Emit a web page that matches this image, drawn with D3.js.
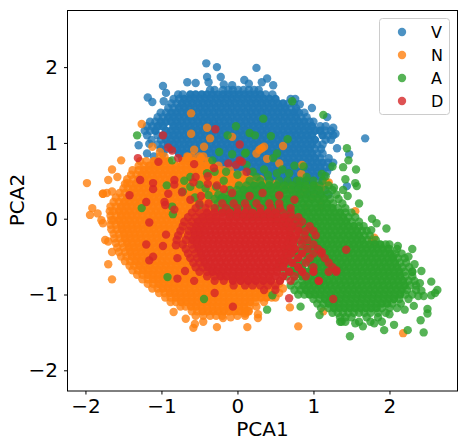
<!DOCTYPE html>
<html><head><meta charset="utf-8">
<script src="https://cdnjs.cloudflare.com/ajax/libs/d3/7.8.5/d3.min.js"></script>
<style>html,body{margin:0;background:#fff}svg{display:block;font-family:"DejaVu Sans"}</style>
</head><body><svg id="c" width="468" height="447"></svg>
<script>
const seriesNames=["V","N","A","D"];
const seriesColors=["#1f77b4","#ff7f0e","#2ca02c","#d62728"];
const xTicks=[-2,-1,0,1,2];
const yTicks=[-2,-1,0,1,2];
// rows: [pca2, pca1, pca1, ...]
const vRows=[
[1.7,-.36,-.3,-.19,-.12,-.06,.01,.08,.15,.22,.28],
[1.64,-.78,-.72,-.62,-.55,-.47,-.4,-.33,-.26,-.19,-.12,-.05,.02,.09,.16,.23,.3,.37,.46],
[1.58,-.84,-.77,-.7,-.63,-.56,-.49,-.42,-.35,-.28,-.21,-.14,-.07,0,.07,.14,.21,.28,.35,.42,.5,.7,.76],
[1.52,-.87,-.8,-.73,-.66,-.59,-.52,-.45,-.38,-.31,-.24,-.17,-.1,-.03,.04,.11,.18,.25,.32,.39,.46,.53,.6,.67,.74],
[1.46,-.91,-.84,-.77,-.7,-.63,-.56,-.49,-.42,-.35,-.28,-.21,-.14,-.07,0,.07,.14,.21,.28,.35,.42,.49,.56,.63,.7,.77],
[1.4,-1.01,-.94,-.87,-.8,-.73,-.66,-.59,-.52,-.45,-.38,-.31,-.24,-.17,-.1,-.03,.04,.11,.18,.25,.32,.39,.46,.53,.6,.67,.74,.81,.88],
[1.34,-1.05,-.98,-.91,-.84,-.77,-.7,-.63,-.56,-.49,-.42,-.35,-.28,-.21,-.14,-.07,0,.07,.14,.21,.28,.35,.42,.49,.56,.63,.7,.77,.84,.91],
[1.28,-1.15,-1.08,-1.01,-.94,-.87,-.8,-.73,-.66,-.59,-.52,-.45,-.38,-.31,-.24,-.17,-.1,-.03,.04,.11,.18,.25,.32,.39,.46,.53,.6,.67,.74,.81,.88,.95,1.0],
[1.22,-1.19,-1.12,-1.05,-.98,-.84,-.77,-.7,-.63,-.56,-.49,-.42,-.35,-.28,-.21,-.14,-.07,0,.07,.14,.21,.28,.35,.42,.49,.56,.63,.7,.77,.84,.91,.98,1.09,1.16],
[1.16,-1.22,-1.15,-1.08,-.94,-.87,-.8,-.73,-.66,-.59,-.52,-.45,-.38,-.31,-.24,-.17,-.1,-.03,.04,.11,.18,.25,.32,.39,.46,.53,.6,.67,.74,.81,.88,.95,1.02,1.09,1.16,1.23],
[1.1,-1.19,-1.05,-.98,-.91,-.84,-.77,-.7,-.63,-.56,-.49,-.42,-.35,-.28,-.21,-.14,-.07,0,.07,.14,.21,.28,.35,.42,.49,.56,.63,.7,.77,.84,.91,.98,1.12,1.19,1.26],
[1.04,-1.13,-1.01,-.94,-.87,-.8,-.73,-.66,-.59,-.52,-.45,-.38,-.31,-.24,-.17,-.1,-.03,.04,.11,.18,.25,.32,.39,.46,.53,.6,.67,.74,.81,.88,.95,1.02,1.16,1.23],
[.98,-1.05,-.98,-.91,-.84,-.77,-.7,-.63,-.56,-.49,-.42,-.35,-.28,-.21,-.14,-.07,0,.07,.14,.21,.28,.35,.42,.49,.56,.63,.7,.77,.84,.91,.98,1.05,1.12],
[.92,-1.01,-.94,-.87,-.8,-.73,-.66,-.59,-.52,-.45,-.38,-.31,-.24,-.17,-.1,-.03,.04,.11,.18,.25,.32,.39,.46,.53,.6,.67,.74,.81,.88,.95,1.02,1.1],
[.86,-1.19,-.98,-.77,-.7,-.63,-.56,-.49,-.42,-.35,-.28,-.21,-.14,-.07,0,.07,.14,.21,.28,.35,.42,.49,.56,.63,.7,.77,.84,.91,.98,1.05,1.12],
[.8,-.73,-.66,-.59,-.52,-.45,-.38,-.31,-.24,-.17,-.1,-.03,.04,.11,.18,.25,.32,.39,.46,.53,.6,.67,.74,.81,.88,.95,1.02,1.09,1.2],
[.74,-.49,-.42,-.35,-.28,-.21,-.14,-.07,0,.07,.14,.21,.28,.35,.42,.49,.56,.63,.7,.77,.84,.91,.98,1.05,1.12,1.19,1.26],
[.68,-.24,-.17,-.1,-.03,.04,.11,.18,.25,.32,.39,.46,.53,.6,.67,.74,.81,.88,.95,1.02,1.09,1.16,1.22],
[.62,0,.07,.14,.21,.28,.35,.42,.49,.56,.63,.7,.77,.84,.91,.98,1.05,1.12,1.18],
[.56,.11,.18,.25,.32,.39,.46,.53,.6,.67,.74,.81,.88,.95,1.02,1.09,1.14],
[.5,.28,.35,.42,.49,.56,.63,.7,.77,.84,.91,.98,1.05,1.12],
[.44,.46,.53,.6,.67,.74,.81,.88,.95,1.02,1.09],
[.38,.63,.7,.77,.84,.91,.98,1.05,1.15],
[.32,.81,.88,.95,1.02,1.09,1.2]
];
const vEdge=[[-.41,2.05],[-.27,2],[.25,1.99],[-.4,1.87],[-.22,1.87],[.39,1.85],[.32,1.8],[.09,1.83],[-.38,1.8],[-.55,1.79],[-.66,1.8],[-.98,1.75],[-.94,1.66],[-1.18,1.6],[-1.12,1.54],[-.97,1.55],[1.68,1.06],[1.31,.93],[1.47,.85],[1.44,.43],[.98,1.46],[1.18,1.34],[.47,1.76],[-.18,1.77],[-.07,1.76],[.15,1.78],[.82,1.51],[.78,1.42],[1.26,1.2],[1.29,1.12],[-1.3,.97],[-1.16,.99],[-1.1,.82]];
const nRows=[
[.82,-1.02,-.96,-.66,-.6,-.5,-.45],
[.76,-1.28,-1.2,-1.1,-1.03,-.96,-.9,-.72,-.65,-.58,-.51,-.44,-.38],
[.7,-1.3,-1.23,-1.16,-1.09,-1.02,-.95,-.88,-.81,-.74,-.67,-.6,-.53,-.46,-.39,-.32,-.25],
[.64,-1.38,-1.3,-1.23,-1.16,-1.09,-1.02,-.95,-.88,-.81,-.74,-.67,-.6,-.53,-.46,-.39,-.32,-.25,-.18,-.1],
[.58,-1.4,-1.33,-1.26,-1.19,-1.12,-1.05,-.98,-.91,-.84,-.77,-.7,-.63,-.56,-.49,-.42,-.35,-.28,-.21,-.14,-.07,0,.07],
[.52,-1.45,-1.37,-1.3,-1.23,-1.16,-1.09,-1.02,-.95,-.88,-.81,-.74,-.67,-.6,-.53,-.46,-.39,-.32,-.25,-.18,-.11,-.04,.03,.1,.17,.24,.3],
[.46,-1.48,-1.41,-1.34,-1.27,-1.2,-1.13,-1.06,-.99,-.92,-.85,-.78,-.71,-.64,-.57,-.5,-.43,-.36,-.29,-.22,-.15,-.08,-.01,.06,.13,.2,.27,.34,.41,.5],
[.4,-1.5,-1.44,-1.37,-1.3,-1.23,-1.16,-1.09,-1.02,-.95,-.88,-.81,-.74,-.67,-.6,-.53,-.46,-.39,-.32,-.25,-.18,-.11,-.04,.03,.1,.17,.24,.31,.38,.45,.6,.7,.9],
[.34,-1.55,-1.48,-1.41,-1.34,-1.27,-1.2,-1.13,-1.06,-.99,-.92,-.85,-.78,-.71,-.64,-.57,-.5,-.43,-.36,-.29,-.22,-.15,-.08,-.01,.06,.13,.2,.3,.42,.55,.85],
[.28,-1.6,-1.52,-1.45,-1.38,-1.31,-1.24,-1.17,-1.1,-1.03,-.96,-.89,-.82,-.75,-.68,-.61,-.54,-.47,-.4,-.33,-.26,-.19,-.12,-.05,.02,.09,.16,.27,.5,.75,1.0],
[.22,-1.63,-1.56,-1.49,-1.42,-1.35,-1.28,-1.21,-1.14,-1.07,-1,-.93,-.86,-.79,-.72,-.65,-.58,-.51,-.44,-.37,-.3,-.23,-.16,-.09,-.02,.05,.4,.65,1.1],
[.16,-1.67,-1.6,-1.53,-1.46,-1.39,-1.32,-1.25,-1.18,-1.11,-1.04,-.97,-.9,-.83,-.76,-.69,-.62,-.55,-.48,-.41,-.34,-.27,-.2,-.13,-.06,.01,.9,1.1],
[.1,-1.68,-1.63,-1.56,-1.49,-1.42,-1.35,-1.28,-1.21,-1.14,-1.07,-1,-.93,-.86,-.79,-.72,-.65,-.58,-.51,-.44,-.37,-.3,-.23,-.16,.9],
[.04,-1.67,-1.6,-1.53,-1.46,-1.39,-1.32,-1.25,-1.18,-1.11,-1.04,-.97,-.9,-.83,-.76,-.69,-.62,-.55,-.48,-.41,-.34,-.27,.7],
[-.02,-1.66,-1.63,-1.56,-1.49,-1.42,-1.35,-1.28,-1.21,-1.14,-1.07,-1,-.93,-.86,-.79,-.72,-.65,-.58,-.51,-.44,-.37,-.3],
[-.08,-1.67,-1.6,-1.53,-1.46,-1.39,-1.32,-1.25,-1.18,-1.11,-1.04,-.97,-.9,-.83,-.76,-.69,-.62,-.55,-.48,-.41],
[-.14,-1.66,-1.59,-1.52,-1.45,-1.38,-1.31,-1.24,-1.17,-1.1,-1.03,-.96,-.89,-.82,-.75,-.68,-.61,-.54,-.47],
[-.2,-1.63,-1.56,-1.49,-1.42,-1.35,-1.28,-1.21,-1.14,-1.07,-1,-.93,-.86,-.79,-.72,-.65,-.58,-.51],
[-.26,-1.62,-1.55,-1.48,-1.41,-1.34,-1.27,-1.2,-1.13,-1.06,-.99,-.92,-.85,-.78,-.71,-.64,-.57,-.5],
[-.32,-1.6,-1.52,-1.45,-1.38,-1.31,-1.24,-1.17,-1.1,-1.03,-.96,-.89,-.82,-.75,-.68,-.61,-.54],
[-.38,-1.58,-1.5,-1.43,-1.36,-1.29,-1.22,-1.15,-1.08,-1.01,-.94,-.87,-.8,-.73,-.66,-.59,-.52],
[-.44,-1.56,-1.48,-1.41,-1.34,-1.27,-1.2,-1.13,-1.06,-.99,-.92,-.85,-.78,-.71,-.64,-.57,-.5],
[-.5,-1.53,-1.46,-1.39,-1.32,-1.25,-1.18,-1.11,-1.04,-.97,-.9,-.83,-.76,-.69,-.62,-.55,-.48],
[-.56,-1.48,-1.41,-1.34,-1.27,-1.2,-1.13,-1.06,-.99,-.92,-.85,-.78,-.71,-.64,-.57,-.5],
[-.62,-1.42,-1.36,-1.29,-1.22,-1.15,-1.08,-1.01,-.94,-.87,-.8,-.73,-.66,-.59,-.52,-.45],
[-.68,-1.38,-1.31,-1.24,-1.17,-1.1,-1.03,-.96,-.89,-.82,-.75,-.68,-.61,-.54,-.47,-.4,-.33],
[-.74,-1.32,-1.25,-1.18,-1.11,-1.04,-.97,-.9,-.83,-.76,-.69,-.62,-.55,-.48,-.41,-.34,-.27,-.2],
[-.8,-1.25,-1.18,-1.11,-1.04,-.97,-.9,-.83,-.76,-.69,-.62,-.55,-.48,-.41,-.34,-.27,-.2,-.13,-.06,.01,.08,.15,.22,.3,.4],
[-.86,-1.18,-1.11,-1.04,-.97,-.9,-.83,-.76,-.69,-.62,-.55,-.48,-.41,-.34,-.27,-.2,-.13,-.06,.01,.08,.15,.22,.29,.36,.43,.5,.55],
[-.92,-1.12,-1.05,-.98,-.91,-.84,-.77,-.7,-.63,-.56,-.49,-.42,-.35,-.28,-.21,-.14,-.07,0,.07,.14,.21,.28,.35,.42,.49,.6],
[-.98,-1.03,-.96,-.89,-.82,-.75,-.68,-.61,-.54,-.47,-.4,-.33,-.26,-.19,-.12,-.05,.02,.09,.16,.23,.3,.37,.44,.55],
[-1.04,-.95,-.88,-.81,-.74,-.67,-.6,-.53,-.46,-.39,-.32,-.25,-.18,-.11,-.04,.03,.1,.17,.24,.31,.38,.45,.5],
[-1.1,-.88,-.81,-.74,-.67,-.6,-.53,-.46,-.39,-.32,-.25,-.18,-.11,-.04,.03,.1,.17,.24,.35],
[-1.16,-.75,-.68,-.61,-.54,-.47,-.4,-.33,-.26,-.19,-.12,-.05,.02,.09,.16,.25],
[-1.22,-.6,-.53,-.46,-.39,-.32,-.25,-.18,-.11,-.04,.03,.1,.15],
[-1.28,-.55,-.45,-.36,-.28,-.2,0,.1]
];
const nEdge=[[-1.98,.47],[-1.77,.33],[-1.7,.51],[-1.65,.65],[-1.53,.77],[-1.58,.55],[-1.45,.47],[-1.26,1.25],[-1.12,.95],[-.61,1.39],[-.61,1.12],[-.4,1.2],[-.36,1.06],[-.07,1.08],[.32,.93],[.29,.91],[.35,.95],[.6,.96],[.25,.86],[.39,.79],[.55,.73],[.85,.71],[.84,.59],[1.02,.43],[1.17,.48],[1.2,.48],[-.44,.95],[-.57,.91],[-.48,.8],[-.65,.81],[-1.02,.88],[-1.94,.05],[-1.91,.14],[-1.84,.07],[-1.79,-.02],[-1.77,-.06],[-1.74,-.28],[-1.7,-.3],[-1.65,-.44],[-1.7,-.6],[-1.65,-.8],[-1.77,.33],[-1.72,.34],[-1.65,.36],[-.84,-1.23],[-.68,-1.32],[-.58,-1.44],[-.56,-1.39],[-.27,-1.43],[.13,-1.43],[-.19,-1.31],[.27,-1.31],[.27,-1.26],[.8,-1.42],[.14,-1.22],[.69,-1.17],[1.13,-1.22],[2.18,-1.51],[1.77,-.28],[1.8,-.25],[1.8,-.33],[1.1,.4],[1.55,.1],[.1,-1.25],[-.09,-1.3],[-.45,-1.36]];
const aRows=[
[.5,.16,.3,.42,.55,.66,.78,.9,1,1.12],
[.44,.02,.12,.22,.32,.42,.52,.62,.72,.82,.9,1,1.08,1.2],
[.38,-.1,-.01,.08,.17,.26,.35,.44,.53,.62,.71,.8,.89,.98,1.07,1.16,1.25],
[.32,-.25,-.16,-.07,.02,.11,.2,.29,.38,.47,.56,.65,.74,.83,.92,1.01,1.1,1.19,1.3],
[.26,-.3,-.22,-.14,-.06,.02,.1,.18,.26,.34,.42,.5,.58,.66,.74,.82,.9,.98,1.06,1.14,1.22,1.33],
[.2,-.26,-.18,-.1,-.02,.06,.14,.22,.3,.38,.46,.54,.62,.7,.78,.86,.94,1.02,1.1,1.18,1.26,1.38],
[.14,-.3,-.22,-.15,-.08,-.01,.06,.13,.2,.27,.34,.41,.48,.55,.62,.69,.76,.83,.9,.97,1.04,1.11,1.18,1.25,1.32,1.42],
[.08,-.2,-.12,-.05,.02,.09,.16,.23,.3,.37,.44,.51,.58,.65,.72,.79,.86,.93,1,1.07,1.14,1.21,1.28,1.35,1.42,1.5],
[.02,-.1,0,.1,.2,.3,.4,.5,.62,.69,.76,.83,.9,.97,1.04,1.11,1.18,1.25,1.32,1.39,1.46,1.55],
[-.04,.5,.6,.66,.73,.8,.87,.94,1.01,1.08,1.15,1.22,1.29,1.36,1.43,1.5,1.6],
[-.1,.6,.69,.76,.83,.9,.97,1.04,1.11,1.18,1.25,1.32,1.39,1.46,1.53,1.6,1.66],
[-.16,.7,.8,.87,.94,1.01,1.08,1.15,1.22,1.29,1.36,1.43,1.5,1.57,1.64,1.7],
[-.22,.7,.83,.9,.97,1.04,1.11,1.18,1.25,1.32,1.39,1.46,1.53,1.6,1.67,1.74],
[-.28,.7,.8,.87,.94,1.01,1.08,1.15,1.22,1.29,1.36,1.43,1.5,1.57,1.64,1.71,1.82],
[-.34,.7,.83,.9,.97,1.04,1.11,1.18,1.25,1.32,1.39,1.46,1.53,1.6,1.67,1.74,1.81,1.88,1.95,2],
[-.4,.65,.75,.86,.93,1,1.07,1.14,1.21,1.28,1.35,1.42,1.49,1.56,1.63,1.7,1.77,1.84,1.91,1.98,2.1],
[-.46,.65,.72,.8,.89,.96,1.03,1.1,1.17,1.24,1.31,1.38,1.45,1.52,1.59,1.66,1.73,1.8,1.87,1.94,2.01,2.08,2.16],
[-.52,.6,.7,.8,.92,.99,1.06,1.13,1.2,1.27,1.34,1.41,1.48,1.55,1.62,1.69,1.76,1.83,1.9,1.97,2.04,2.11,2.2],
[-.58,.55,.65,.75,.85,.95,1.02,1.09,1.16,1.23,1.3,1.37,1.44,1.51,1.58,1.65,1.72,1.79,1.86,1.93,2,2.07,2.14,2.22],
[-.64,.55,.65,.75,.85,.98,1.05,1.12,1.19,1.26,1.33,1.4,1.47,1.54,1.61,1.68,1.75,1.82,1.89,1.96,2.03,2.1,2.17,2.26],
[-.7,.6,.7,.78,.85,.93,1.01,1.08,1.15,1.22,1.29,1.36,1.43,1.5,1.57,1.64,1.71,1.78,1.85,1.92,1.99,2.06,2.13,2.2,2.3],
[-.76,.65,.75,.85,.95,1.02,1.09,1.16,1.23,1.3,1.37,1.44,1.51,1.58,1.65,1.72,1.79,1.86,1.93,2,2.07,2.14,2.21,2.3],
[-.82,.75,.85,.92,.99,1.06,1.13,1.2,1.27,1.34,1.41,1.48,1.55,1.62,1.69,1.76,1.83,1.9,1.97,2.04,2.11,2.18,2.25,2.33],
[-.88,.7,.8,.87,.94,1.01,1.08,1.15,1.22,1.29,1.36,1.43,1.5,1.57,1.64,1.71,1.78,1.85,1.92,1.99,2.06,2.13,2.2,2.27,2.35],
[-.94,.75,.83,.9,.97,1.04,1.11,1.18,1.25,1.32,1.39,1.46,1.53,1.6,1.67,1.74,1.81,1.88,1.95,2.02,2.09,2.16,2.23,2.35],
[-1,.8,.88,.95,1.02,1.09,1.16,1.23,1.3,1.37,1.44,1.51,1.58,1.65,1.72,1.79,1.86,1.93,2,2.07,2.14,2.21,2.3],
[-1.06,1,1.08,1.15,1.22,1.29,1.36,1.43,1.5,1.57,1.64,1.71,1.78,1.85,1.92,1.99,2.06,2.13,2.25],
[-1.12,1.05,1.13,1.2,1.27,1.34,1.41,1.48,1.55,1.62,1.69,1.76,1.83,1.9,1.97,2.04,2.15],
[-1.18,1.1,1.2,1.27,1.34,1.41,1.48,1.55,1.62,1.69,1.76,1.83,1.9,2],
[-1.24,1.25,1.32,1.39,1.46,1.53,1.6,1.67,1.75,1.85,1.95],
[-1.3,1.35,1.42,1.5,1.7,1.85],
[-1.36,1.37,1.42,1.6,1.75,1.9]
];
const aEdge=[[1.77,0],[1.83,-.06],[1.76,-.15],[1.96,-.13],[2.3,-.4],[2.11,-.36],[2.42,-.69],[2.55,-.83],[2.63,-.94],[2.6,-.98],[2.55,-1.01],[2.45,-1.02],[2.5,-1.19],[2.5,-1.25],[2.41,-1.34],[2.45,-1.5],[2.24,-1.47],[2.06,-1.4],[1.93,-1.47],[1.48,-1.55],[1.08,-1.27],[.83,-1.16],[.39,-1.2],[.46,-1.01],[1.35,-1.36],[-1.26,.14],[-.92,-.77],[-.44,-1.06],[-.85,.06],[-1.32,1.1],[-.86,.77],[-.13,1.1],[-.02,1.22],[.16,1.13],[.23,1.1],[-.07,.85],[-.24,.88],[.11,.87],[-.33,.77],[.72,1.55],[1.13,1.37],[.34,1.32],[.44,1.09],[.66,1.05],[.52,.86],[.47,.8],[1.44,.93],[1.46,.77],[1.39,.68],[1.56,.65],[1.42,.52],[1.55,.47],[1.57,.43],[1.25,.69],[1.11,.59],[1.16,.56],[.87,.69],[.75,.7],[.59,.65],[.91,.55],[.1,.86],[.12,.71],[1.27,.41],[.2,.13],[-.62,.55],[-.5,.45],[-.72,.36],[-.4,.6],[-.3,.62],[-.15,.62],[-.18,.5],[0,.58],[-.38,.31],[-.56,.28],[-.5,.18],[-.93,.44],[-.7,.5],[-.86,.16],[1.45,.3],[1.39,.38],[1.6,.2],[2,-.4],[2.05,-.5],[2.25,-.5],[2.33,-.6],[2.3,-.7],[2.42,-.95],[2.4,-.85],[2.38,-1.02],[2.32,-1.15],[2.2,-1.2],[2.1,-1.18],[2,-1.26],[1.8,-1.38],[1.65,-1.42],[1.55,-1.38],[.25,.55],[.4,.58],[.52,.6],[.68,.6],[.82,.5],[.35,.65],[.2,.62],[-.28,.42],[-.2,.28],[-.42,.4],[-.62,.42]];
const dRows=[
[.2,-.5,-.38,-.2,-.05,.1,.25,.42,.55],
[.14,-.55,-.42,-.3,-.15,0,.13,.3,.44,.56,.7],
[.08,-.6,-.5,-.4,-.3,-.2,-.1,0,.1,.2,.3,.4,.5,.6,.7],
[.02,-.65,-.55,-.46,-.37,-.28,-.19,-.1,-.01,.08,.17,.26,.35,.44,.53,.62,.71,.8],
[-.04,-.7,-.6,-.52,-.44,-.36,-.28,-.2,-.12,-.04,.04,.12,.2,.28,.36,.44,.52,.6,.68,.76,.85],
[-.1,-.72,-.62,-.54,-.47,-.4,-.33,-.26,-.19,-.12,-.05,.02,.09,.16,.23,.3,.37,.44,.51,.58,.65,.72,.8,.95],
[-.16,-.75,-.64,-.57,-.5,-.43,-.36,-.29,-.22,-.15,-.08,-.01,.06,.13,.2,.27,.34,.41,.48,.55,.62,.69,.8,.9,1],
[-.22,-.78,-.65,-.56,-.49,-.42,-.35,-.28,-.21,-.14,-.07,0,.07,.14,.21,.28,.35,.42,.49,.56,.63,.7,.77,.88,1.03],
[-.28,-.8,-.68,-.59,-.52,-.45,-.38,-.31,-.24,-.17,-.1,-.03,.04,.11,.18,.25,.32,.39,.46,.53,.6,.67,.74,.82,.92],
[-.34,-.72,-.6,-.53,-.46,-.39,-.32,-.25,-.18,-.11,-.04,.03,.1,.17,.24,.31,.38,.45,.52,.59,.66,.73,.85,1],
[-.4,-.68,-.58,-.51,-.44,-.37,-.3,-.23,-.16,-.09,-.02,.05,.12,.19,.26,.33,.4,.47,.54,.61,.68,.76,.92,1.06],
[-.46,-.65,-.55,-.48,-.41,-.34,-.27,-.2,-.13,-.06,.01,.08,.15,.22,.29,.36,.43,.5,.57,.64,.71,.85,1,1.1],
[-.52,-.62,-.53,-.46,-.39,-.32,-.25,-.18,-.11,-.04,.03,.1,.17,.24,.31,.38,.45,.52,.59,.66,.8,.95,1.15],
[-.58,-.58,-.5,-.43,-.36,-.29,-.22,-.15,-.08,-.01,.06,.13,.2,.27,.34,.41,.48,.55,.62,.72,.9,1.2],
[-.64,-.55,-.46,-.39,-.32,-.25,-.18,-.11,-.04,.03,.1,.17,.24,.31,.38,.45,.52,.6,.8,1,1.25],
[-.7,-.5,-.4,-.33,-.26,-.19,-.12,-.05,.02,.09,.16,.23,.3,.37,.44,.52,.68,.85,1,1.2,1.3],
[-.76,-.4,-.3,-.22,-.14,-.06,.02,.1,.18,.26,.34,.42,.5,.6,.75,.9],
[-.82,-.3,-.18,-.06,.04,.14,.24,.34,.44,.56,.7,1.07],
[-.88,-.05,.1,.2,.3,.4,.5],
[-.94,.35,.5]
];
const dEdge=[[-1.42,.31],[-1.2,.22],[-.96,.22],[-.95,.18],[-.83,.12],[-1.16,-.05],[-.94,-.21],[-1.2,-.34],[-.98,-.36],[-.81,-.35],[-1.16,-.55],[-1.11,-.5],[-.79,-.52],[-.79,-.79],[-.69,-.69],[-.57,-.82],[-.06,-1.16],[-.98,1.1],[-.29,1.18],[-.91,.94],[-.86,.9],[-1.31,.8],[-.78,.8],[-1.04,.75],[-.57,.72],[.03,.98],[.03,.77],[-.12,.73],[-.02,.71],[-.31,.67],[.12,.62],[-1.28,.51],[-1.11,.47],[-.83,.51],[-.83,.45],[-.55,.55],[-.58,.48],[-1.11,.39],[-.39,.56],[-.39,.46],[-.27,.44],[-.91,.33],[-.73,.35],[-.18,.39],[-.07,.34],[.06,.75],[.55,.31],[1.26,-1.06],[1.43,-.41],[1.3,-.68],[1.07,-.82],[1.11,-.44],[.68,-1.05],[.16,.3],[.33,.34],[-.48,.3],[-.62,.25],[.75,.25],[-.3,-.98]];
const rowsBySeries=[vRows,nRows,aRows,dRows];
const edgeBySeries=[vEdge,nEdge,aEdge,dEdge];

const svg=d3.select("#c");
const x=d3.scaleLinear().domain([-2.236,2.895]).range([67.5,457.5]);
const y=d3.scaleLinear().domain([-2.273,2.747]).range([391,10.5]);
const fmt=d=>String(d).replace("-","\u2212");

rowsBySeries.forEach((rows,i)=>{
  const pts=[];
  // each interior point stands for many overplotted ones, so it is drawn near-opaque
  rows.forEach(r=>r.slice(1).forEach((px,k)=>pts.push([px,r[0],(k<2||k>r.length-4||r.length<12)?.8:.97])));
  edgeBySeries[i].forEach(p=>pts.push([p[0],p[1],.8]));
  svg.append("g").attr("fill",seriesColors[i])
    .selectAll("circle").data(pts).join("circle")
    .attr("fill-opacity",d=>d[2])
    .attr("cx",d=>x(d[0])).attr("cy",d=>y(d[1])).attr("r",4.2);
});

svg.append("rect").attr("x",67.5).attr("y",10.5).attr("width",390).attr("height",380.5)
  .attr("fill","none").attr("stroke","#000").attr("stroke-width",1);

const gx=svg.append("g").attr("transform","translate(0,391)")
  .call(d3.axisBottom(x).tickValues(xTicks).tickFormat(fmt).tickSize(3.5).tickPadding(4));
const gy=svg.append("g").attr("transform","translate(67.5,0)")
  .call(d3.axisLeft(y).tickValues(yTicks).tickFormat(fmt).tickSize(3.5).tickPadding(6));
[gx,gy].forEach(g=>{
  g.select(".domain").remove();
  g.selectAll("text").attr("font-size",20).attr("font-family","DejaVu Sans").attr("fill","#000");
  g.selectAll("line").attr("stroke","#000");
});
svg.append("text").attr("x",262.5).attr("y",436).attr("text-anchor","middle").attr("font-size",20).text("PCA1");
svg.append("text").attr("transform","translate(24,200) rotate(-90)").attr("text-anchor","middle").attr("font-size",20).text("PCA2");

const lg=svg.append("g");
lg.append("rect").attr("x",379.5).attr("y",18.5).attr("width",70).attr("height",96).attr("rx",3)
  .attr("fill","#fff").attr("fill-opacity",.8).attr("stroke","#ccc");
seriesNames.forEach((n,i)=>{
  const cy=32+i*23;
  lg.append("circle").attr("cx",402).attr("cy",cy).attr("r",4.2).attr("fill",seriesColors[i]).attr("fill-opacity",.8);
  lg.append("text").attr("x",431).attr("y",cy+6).attr("font-size",16).text(n);
});
</script></body></html>
